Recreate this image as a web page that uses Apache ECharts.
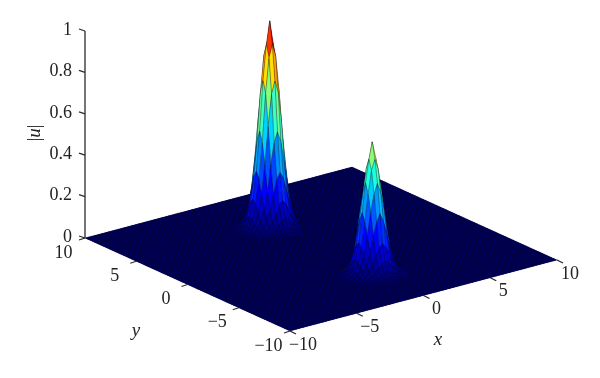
<!DOCTYPE html>
<html>
<head>
<meta charset="utf-8">
<style>html,body{margin:0;background:#fff}#chart{width:600px;height:378px}</style>
<script src="https://cdn.jsdelivr.net/npm/echarts@6/dist/echarts.min.js"></script>
</head>
<body>
<div id="chart"></div>
<script>
// tick labels
const xTicks = [-10, -5, 0, 5, 10]
const yTicks = [-10, -5, 0, 5, 10]
const zTicks = [0, 0.2, 0.4, 0.6, 0.8, 1]

// mesh spacing of the surface, floor is 0 away from the two peaks
const meshStep = 0.25
const meshCount = 80

// peak centres, on the mesh
const peakACenter = [0, 5]
const peakBCenter = [0, -5]

// heights, one quadrant of each peak (rows = x offset, cols = y offset)
const peakA = [
  [0.99, 0.88, 0.71, 0.47, 0.28, 0.15, 0.07, 0.03, 0.01],
  [0.88, 0.82, 0.65, 0.42, 0.25, 0.13, 0.06, 0.02, 0.008],
  [0.71, 0.65, 0.50, 0.32, 0.18, 0.09, 0.04, 0.015, 0.005],
  [0.47, 0.42, 0.32, 0.19, 0.11, 0.055, 0.025, 0.01, 0.003],
  [0.28, 0.25, 0.18, 0.11, 0.065, 0.03, 0.014, 0.005, 0.002],
  [0.15, 0.13, 0.09, 0.055, 0.03, 0.018, 0.008, 0.003, 0.001],
  [0.07, 0.06, 0.04, 0.025, 0.014, 0.008, 0.004, 0.002, 0.000],
  [0.03, 0.02, 0.015, 0.01, 0.005, 0.003, 0.002, 0.001, 0.000],
  [0.01, 0.008, 0.005, 0.003, 0.002, 0.001, 0.000, 0.000, 0.000]
]
const peakB = [
  [0.63, 0.55, 0.44, 0.30, 0.16, 0.08, 0.04, 0.015, 0.005],
  [0.55, 0.50, 0.39, 0.26, 0.14, 0.07, 0.03, 0.012, 0.004],
  [0.44, 0.39, 0.31, 0.20, 0.11, 0.055, 0.024, 0.009, 0.003],
  [0.30, 0.26, 0.20, 0.12, 0.065, 0.033, 0.015, 0.006, 0.002],
  [0.16, 0.14, 0.11, 0.065, 0.04, 0.02, 0.009, 0.003, 0.001],
  [0.08, 0.07, 0.055, 0.033, 0.02, 0.011, 0.005, 0.002, 0.001],
  [0.04, 0.03, 0.024, 0.015, 0.009, 0.005, 0.002, 0.001, 0.000],
  [0.015, 0.012, 0.009, 0.006, 0.003, 0.002, 0.001, 0.000, 0.000],
  [0.005, 0.004, 0.003, 0.002, 0.001, 0.001, 0.000, 0.000, 0.000]
]

// jet colormap, low end darkened to the navy of the printed floor
const jetStops = [0, 0.11, 0.365, 0.62, 0.87, 1]
const jetColors = ['#000068', '#0000ff', '#00ffff', '#ffff00', '#ff0000', '#800000']

const floorColor = '#00005a'
const axisColor = '#2b2b2b'
const serif = '"Liberation Serif", serif'

function jet(v) {
  for (let i = 1; i < jetStops.length; i++) {
    if (v <= jetStops[i]) {
      const t = (v - jetStops[i - 1]) / (jetStops[i] - jetStops[i - 1])
      return echarts.color.lerp(t, [jetColors[i - 1], jetColors[i]])
    }
  }
  return jetColors[jetColors.length - 1]
}

// 3d view: data (x, y, z) to plot units of the hidden cartesian axes
function project(x, y, z) {
  const u = (x + 10) / 20
  const v = (y + 10) / 20
  return [290 + u * 267 - v * 205, 331 - u * 71 - v * 93 - z * 207]
}

function peakHeight(peak, center, x, y) {
  const i = Math.abs(Math.round((x - center[0]) / meshStep))
  const j = Math.abs(Math.round((y - center[1]) / meshStep))
  return i < peak.length && j < peak.length ? peak[i][j] : 0
}

function height(x, y) {
  return Math.max(peakHeight(peakA, peakACenter, x, y), peakHeight(peakB, peakBCenter, x, y))
}

// back to front, so nearer cells paint over farther ones
const cells = []
for (let j = meshCount - 1; j >= 0; j--) {
  for (let i = meshCount - 1; i >= 0; i--) {
    cells.push([-10 + i * meshStep, -10 + j * meshStep])
  }
}

// solid plane under the mesh so cell seams do not let the white page through
function renderFloor(params, api) {
  return {
    type: 'polygon',
    shape: {
      points: [[-10, -10], [10, -10], [10, 10], [-10, 10]].map(c => api.coord(project(c[0], c[1], 0)))
    },
    style: { fill: floorColor }
  }
}

function renderCell(params, api) {
  const x = api.value(0)
  const y = api.value(1)
  const corners = [[x, y], [x + meshStep, y], [x + meshStep, y + meshStep], [x, y + meshStep]]
  return {
    type: 'polygon',
    shape: {
      points: corners.map(c => api.coord(project(c[0], c[1], height(c[0], c[1]))))
    },
    style: {
      fill: jet(height(x, y)),
      stroke: 'rgba(0,0,20,0.42)',
      lineWidth: 0.6
    }
  }
}

function line(api, from, to) {
  return {
    type: 'line',
    shape: {
      x1: api.coord(from)[0], y1: api.coord(from)[1],
      x2: api.coord(to)[0], y2: api.coord(to)[1]
    },
    style: { stroke: axisColor, lineWidth: 1.3 }
  }
}

function label(api, text, pos, align, italic) {
  const c = api.coord(pos)
  return {
    type: 'text',
    style: {
      text: text,
      x: c[0],
      y: c[1],
      align: align,
      verticalAlign: 'middle',
      fontFamily: serif,
      fontSize: italic ? 19 : 18,
      fontStyle: italic ? 'italic' : 'normal',
      fill: '#222'
    }
  }
}

function tickText(v) {
  return String(v).replace('-', '\u2212')
}

function renderAxes(params, api) {
  const children = []
  children.push(line(api, project(-10, 10, 0), project(-10, 10, 1)))
  zTicks.forEach(v => {
    const p = project(-10, 10, v)
    children.push(line(api, p, [p[0] - 6, p[1] - 2]))
    children.push(label(api, tickText(v), [p[0] - 13, p[1] - 1], 'right'))
  })
  yTicks.forEach(v => {
    const p = project(-10, v, 0)
    children.push(line(api, p, [p[0] - 6, p[1] + 2]))
    children.push(label(api, tickText(v), [p[0] - 21.5, p[1] + 15], 'center'))
  })
  xTicks.forEach(v => {
    const p = project(v, -10, 0)
    children.push(line(api, p, [p[0] + 6, p[1] + 3]))
    children.push(label(api, tickText(v), [p[0] + 13, p[1] + 14], 'center'))
  })
  children.push(label(api, 'y', [136, 331], 'center', true))
  children.push(label(api, 'x', [438, 340], 'center', true))
  const uPos = api.coord([35, 133])
  children.push({
    type: 'text',
    x: uPos[0],
    y: uPos[1],
    rotation: Math.PI / 2,
    style: {
      text: '|{i|u}|',
      align: 'center',
      verticalAlign: 'middle',
      fontFamily: serif,
      fontSize: 18,
      fill: '#222',
      rich: { i: { fontFamily: serif, fontSize: 19, fontStyle: 'italic', fill: '#222' } }
    }
  })
  return { type: 'group', children: children }
}

const chart = echarts.init(document.getElementById('chart'), null, { renderer: 'canvas' })
chart.setOption({
  animation: false,
  backgroundColor: '#fff',
  grid: { left: 0, right: 0, top: 0, bottom: 0 },
  xAxis: { type: 'value', min: 0, max: 600, show: false },
  yAxis: { type: 'value', min: 0, max: 378, inverse: true, show: false },
  series: [
    {
      type: 'custom',
      name: 'floor',
      coordinateSystem: 'cartesian2d',
      renderItem: renderFloor,
      data: [[0, 0]],
      clip: false,
      silent: true,
      z: 1
    },
    {
      type: 'custom',
      name: 'surface',
      coordinateSystem: 'cartesian2d',
      renderItem: renderCell,
      data: cells,
      encode: { x: 0, y: 1 },
      clip: false,
      progressive: 0,
      silent: true,
      z: 2
    },
    {
      type: 'custom',
      name: 'axes',
      coordinateSystem: 'cartesian2d',
      renderItem: renderAxes,
      data: [[0, 0]],
      clip: false,
      silent: true,
      z: 3
    }
  ]
})
</script>
</body>
</html>
